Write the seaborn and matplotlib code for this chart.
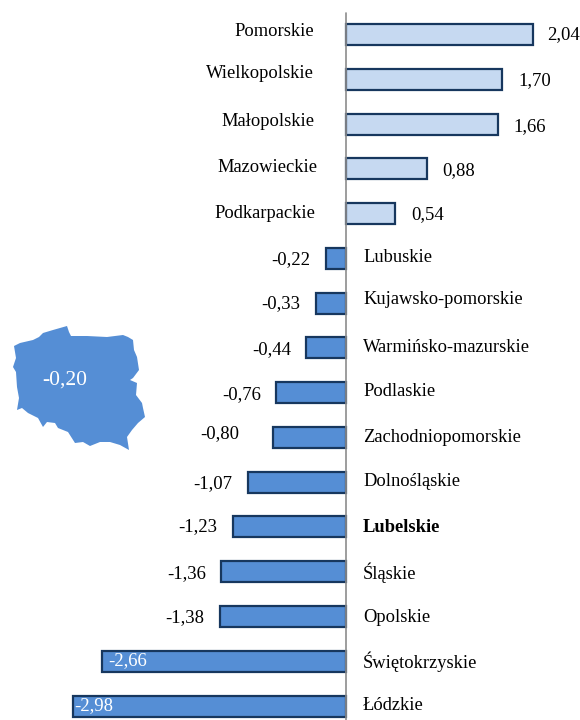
import matplotlib
matplotlib.use("Agg")
import matplotlib.pyplot as plt
from matplotlib.patches import Polygon
from matplotlib.transforms import Affine2D
import pandas as pd
import seaborn as sns

regions = ["Pomorskie", "Wielkopolskie", "Małopolskie", "Mazowieckie", "Podkarpackie",
           "Lubuskie", "Kujawsko-pomorskie", "Warmińsko-mazurskie", "Podlaskie",
           "Zachodniopomorskie", "Dolnośląskie", "Lubelskie", "Śląskie", "Opolskie",
           "Świętokrzyskie", "Łódzkie"]
values = [2.04, 1.70, 1.66, 0.88, 0.54, -0.22, -0.33, -0.44, -0.76, -0.80, -1.07, -1.23,
          -1.36, -1.38, -2.66, -2.98]
poland_value = -0.20

# hand placed labels, in pixels of the image
name_x = [314, 314, 314, 317, 315, 363, 363, 363, 363, 363, 363, 363, 363, 363, 363, 363]
name_y = [31, 73, 121, 167, 213, 258, 300, 347, 392, 437, 481, 527, 573, 618, 662, 706]
value_x = [563, 535, 530, 459, 428, 291, 281, 272, 242, 220, 213, 198, 187, 185, 128, 94]
value_y = [35, 81, 127, 171, 215, 260, 304, 350, 395, 434, 484, 527, 574, 618, 661, 706]

# outline of the country, pixels of the image
map_x = [14, 20, 33, 39, 43, 53, 67, 69, 71, 87, 107, 123, 128, 133, 134, 137, 139, 133,
         130, 137, 136, 142, 143, 145, 138, 132, 127, 129, 120, 110, 100, 90, 83, 75, 68,
         58, 55, 47, 43, 38, 28, 22, 17, 19, 17, 16, 13, 16]
map_y = [346, 343, 340, 337, 333, 330, 326, 332, 336, 336, 337, 335, 337, 340, 350, 357,
         370, 378, 380, 383, 395, 403, 408, 417, 423, 430, 437, 450, 445, 442, 442, 446,
         442, 443, 432, 428, 423, 422, 427, 418, 413, 408, 410, 398, 387, 372, 367, 358]

LIGHT = "#c6d9f1"
DARK = "#558ed5"
EDGE = "#17375e"
SERIF = "Liberation Serif"

sns.set_style("white")
plt.rcParams["font.family"] = SERIF

df = pd.DataFrame({"region": regions, "value": values})
colors = [LIGHT if v > 0 else DARK for v in values]

fig = plt.figure(figsize=(5.8, 7.2), dpi=100)
ax = fig.add_axes([0, 0, 1, 1])
sns.barplot(data=df, x="value", y="region", hue="region", palette=colors, legend=False,
            width=0.47, edgecolor=EDGE, linewidth=1.6, saturation=1, ax=ax)

# 91.65 px per unit with zero at x=346, 44.77 px per bar with the first at y=34.5
ax.set_xlim(-346 / 91.65, 234 / 91.65)
ax.set_ylim((720 - 34.5) / 44.77, -34.5 / 44.77)
ax.axis("off")

px = Affine2D().scale(1 / 580, -1 / 720).translate(0, 1) + fig.transFigure

ax.plot([346, 346], [13, 720], color="#8c8c8c", lw=1.2, transform=px, clip_on=False)

for i, name in enumerate(regions):
    ha = "right" if values[i] > 0 else "left"
    weight = "bold" if name == "Lubelskie" else "normal"
    ax.text(name_x[i], name_y[i], name, transform=px, ha=ha, va="center", fontsize=13.3,
            color="black", fontweight=weight)

for i, v in enumerate(values):
    label = f"{v:.2f}".replace(".", ",")
    color = "white" if v < -2 else "black"
    ax.text(value_x[i], value_y[i], label, transform=px, ha="center", va="center",
            fontsize=13.5, color=color)

ax.add_patch(Polygon(list(zip(map_x, map_y)), closed=True, facecolor=DARK, edgecolor="none",
                     transform=px))
ax.text(65, 380, f"{poland_value:.2f}".replace(".", ","), transform=px, ha="center", va="center",
        fontsize=15.5, color="white")

fig.savefig("out.png", dpi=100)
